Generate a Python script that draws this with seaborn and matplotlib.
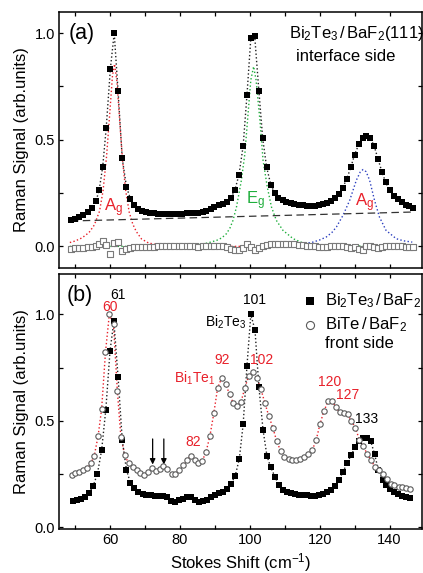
import matplotlib
matplotlib.use("Agg")
import matplotlib.pyplot as plt
import seaborn as sns
from matplotlib.ticker import MultipleLocator

# ---------------- Panel (a): interface side ----------------
a_x = [48.9, 50.1, 51.2, 52.4, 53.6, 54.8, 56.0, 56.9, 57.9, 58.9,
       60.1, 61.2, 62.3, 63.5, 64.7, 65.8, 66.9, 68.1, 69.2, 70.4,
       71.5, 72.7, 73.8, 75.0, 76.1, 77.3, 78.4, 79.6, 80.7, 81.9,
       83.0, 84.2, 85.3, 86.5, 87.6, 88.8, 89.9, 91.1, 92.2, 93.4,
       94.5, 95.7, 96.9, 98.1, 99.2, 100.3, 101.4, 102.6, 103.7, 104.8,
       106.0, 107.1, 108.2, 109.4, 110.5, 111.7, 112.8, 114.0, 115.1, 116.3,
       117.4, 118.6, 119.7, 120.9, 122.0, 123.2, 124.3, 125.5, 126.6, 127.8,
       128.9, 130.0, 131.2, 132.3, 133.4, 134.5, 135.6, 136.7, 137.8, 138.9,
       140.0, 141.2, 142.3, 143.5, 144.6, 145.7, 146.7]
a_y = [0.124, 0.130, 0.138, 0.148, 0.160, 0.180, 0.212, 0.265, 0.372, 0.553,
       0.832, 1.000, 0.728, 0.412, 0.280, 0.224, 0.193, 0.177, 0.168, 0.162,
       0.158, 0.155, 0.153, 0.152, 0.151, 0.151, 0.152, 0.153, 0.154, 0.155,
       0.156, 0.155, 0.157, 0.162, 0.168, 0.175, 0.183, 0.192, 0.200, 0.210,
       0.225, 0.262, 0.335, 0.470, 0.710, 0.976, 0.987, 0.730, 0.506, 0.373,
       0.290, 0.250, 0.228, 0.217, 0.209, 0.202, 0.197, 0.194, 0.192, 0.190,
       0.189, 0.190, 0.193, 0.197, 0.203, 0.212, 0.225, 0.245, 0.275, 0.318,
       0.370, 0.430, 0.478, 0.508, 0.515, 0.508, 0.470, 0.410, 0.350, 0.300,
       0.262, 0.238, 0.220, 0.207, 0.196, 0.187, 0.180]
a_res = [-0.010, -0.009, -0.008, -0.007, -0.005, -0.003, 0.002, 0.012, 0.024, 0.008,
         -0.034, 0.018, 0.020, -0.022, -0.012, -0.006, -0.004, -0.003, -0.002, -0.002,
         -0.001, -0.001, 0.000, 0.000, 0.001, 0.000, 0.000, 0.001, 0.000, 0.000,
         0.000, 0.000, -0.001, 0.000, 0.001, 0.002, 0.003, 0.002, 0.000, -0.004,
         -0.010, -0.016, -0.018, -0.008, 0.010, -0.003, -0.017, -0.006, 0.002, 0.008,
         0.012, 0.012, 0.011, 0.012, 0.012, 0.011, 0.010, 0.008, 0.005, 0.002,
         0.000, 0.000, -0.002, -0.003, -0.002, 0.000, 0.002, 0.003, 0.001, -0.003,
         -0.006, -0.005, -0.010, -0.018, 0.003, 0.000, -0.004, -0.006, -0.004, 0.000,
         0.002, 0.004, 0.003, 0.000, -0.001, -0.002, -0.004]

base_x = [48.8, 146.7]
base_y = [0.119, 0.161]

red_x = [48.5, 50, 52, 54, 55.5, 57, 58, 59, 60, 60.7, 61.3, 62, 62.8, 63.6,
         64.5, 65.5, 66.5, 67.5, 69, 71, 74, 78, 85, 95, 105]
red_y = [0.018, 0.025, 0.040, 0.065, 0.100, 0.165, 0.26, 0.42, 0.64, 0.80, 0.855,
         0.77, 0.58, 0.40, 0.26, 0.16, 0.105, 0.070, 0.035, 0.016, 0.006, 0.0,
         0.0, 0.0, 0.0]
green_x = [48.5, 60, 70, 80, 85.7, 88, 90.5, 92, 93.3, 94.3, 95.2, 96.2, 97.6,
           98.6, 99.5, 100.3, 101.1, 101.8, 102.9, 103.8, 105.0, 106.2, 107.6,
           109.5, 112.4, 115.2, 120, 130, 147]
green_y = [0.0, 0.0, 0.0, 0.002, 0.009, 0.016, 0.028, 0.040, 0.059, 0.085, 0.122,
           0.185, 0.31, 0.435, 0.62, 0.78, 0.843, 0.78, 0.592, 0.404, 0.279, 0.185,
           0.122, 0.075, 0.036, 0.016, 0.006, 0.002, 0.0]
blue_x = [100, 110, 114.3, 118.1, 120, 121.9, 123.5, 124.8, 126.7, 128.6, 130.5,
          131.6, 132.4, 133.3, 134.3, 135.7, 137.1, 139.0, 141.9, 144, 146.5]
blue_y = [0.0, 0.004, 0.009, 0.020, 0.030, 0.044, 0.065, 0.091, 0.146, 0.216, 0.31,
          0.348, 0.36, 0.35, 0.31, 0.216, 0.138, 0.075, 0.036, 0.026, 0.020]

# ---------------- Panel (b): front side ----------------
b_sq_x = [49.3, 50.5, 51.6, 52.8, 54.0, 55.2, 56.4, 57.6, 58.8, 60.0,
          61.1, 62.3, 63.5, 64.7, 65.8, 66.9, 68.1, 69.3, 70.4, 71.6,
          72.8, 73.9, 75.1, 76.2, 77.4, 78.5, 79.7, 80.8, 82.0, 83.1,
          84.3, 85.4, 86.6, 87.7, 88.9, 90.0, 91.2, 92.3, 93.5, 94.6,
          95.8, 97.0, 98.1, 99.2, 100.3, 101.5, 102.6, 103.8, 104.9, 106.0,
          107.2, 108.3, 109.5, 110.6, 111.8, 112.9, 114.1, 115.2, 116.4, 117.5,
          118.7, 119.8, 121.0, 122.1, 123.3, 124.4, 125.6, 126.7, 127.9, 129.0,
          130.2, 131.3, 132.4, 133.5, 134.6, 135.7, 136.8, 138.0, 139.1, 140.2,
          141.4, 142.5, 143.7, 144.8, 146.0]
b_sq_y = [0.123, 0.127, 0.134, 0.143, 0.160, 0.195, 0.252, 0.363, 0.553, 0.828,
          0.968, 0.707, 0.410, 0.270, 0.210, 0.186, 0.167, 0.155, 0.152, 0.151,
          0.148, 0.147, 0.146, 0.140, 0.124, 0.120, 0.126, 0.134, 0.142, 0.140,
          0.126, 0.120, 0.122, 0.130, 0.140, 0.150, 0.160, 0.168, 0.180, 0.205,
          0.240, 0.321, 0.483, 0.759, 1.000, 0.926, 0.661, 0.457, 0.337, 0.281,
          0.238, 0.198, 0.176, 0.168, 0.160, 0.156, 0.154, 0.152, 0.150, 0.147,
          0.145, 0.150, 0.158, 0.167, 0.176, 0.195, 0.223, 0.262, 0.301, 0.340,
          0.375, 0.406, 0.418, 0.421, 0.405, 0.345, 0.270, 0.222, 0.197, 0.180,
          0.165, 0.156, 0.149, 0.143, 0.136]
b_ci_x = [49.0, 50.0, 51.1, 52.3, 53.5, 54.5, 55.5, 56.6, 57.6, 58.7,
          59.8, 61.0, 62.1, 63.1, 64.2, 65.3, 66.5, 67.6, 68.7, 69.8,
          70.9, 72.0, 73.1, 74.2, 75.3, 76.4, 77.6, 78.7, 79.8, 80.9,
          82.0, 83.1, 84.2, 85.3, 86.4, 87.5, 88.6, 89.7, 90.8, 92.0,
          93.1, 94.2, 95.3, 96.4, 97.5, 98.6, 99.7, 100.9, 102.0, 103.2,
          104.3, 105.4, 106.6, 107.7, 108.8, 109.9, 111.1, 112.2, 113.3, 114.5,
          115.6, 116.7, 117.9, 119.0, 120.1, 121.2, 122.4, 123.5, 124.6, 125.7,
          126.9, 128.0, 129.1, 130.2, 131.4, 132.5, 133.6, 134.7, 135.8, 136.9,
          138.1, 139.2, 140.3, 141.4, 142.6, 143.7, 144.8, 146.0]
b_ci_y = [0.246, 0.254, 0.260, 0.268, 0.280, 0.300, 0.337, 0.430, 0.556, 0.822,
          1.000, 0.953, 0.640, 0.426, 0.340, 0.300, 0.283, 0.268, 0.255, 0.245,
          0.258, 0.278, 0.266, 0.272, 0.290, 0.272, 0.252, 0.250, 0.268, 0.292,
          0.315, 0.335, 0.318, 0.300, 0.312, 0.355, 0.430, 0.535, 0.655, 0.703,
          0.672, 0.626, 0.582, 0.570, 0.590, 0.655, 0.712, 0.728, 0.702, 0.648,
          0.585, 0.525, 0.468, 0.405, 0.360, 0.332, 0.320, 0.315, 0.315, 0.322,
          0.330, 0.342, 0.363, 0.410, 0.485, 0.545, 0.592, 0.595, 0.566, 0.540,
          0.535, 0.530, 0.500, 0.468, 0.410, 0.380, 0.345, 0.315, 0.285, 0.268,
          0.250, 0.225, 0.205, 0.197, 0.191, 0.189, 0.186, 0.181]

arrow_x = [72.2, 75.4]

# ---------------- style ----------------
sns.set_theme(style="ticks")
plt.rcParams["font.family"] = ["Liberation Sans", "DejaVu Sans"]
plt.rcParams["mathtext.fontset"] = "custom"
plt.rcParams["mathtext.rm"] = "Liberation Sans"
plt.rcParams["mathtext.it"] = "Liberation Sans:italic"
plt.rcParams["mathtext.bf"] = "Liberation Sans:bold"
plt.rcParams["mathtext.sf"] = "Liberation Sans"
for key in ("text.color", "axes.labelcolor", "xtick.color", "ytick.color",
            "xtick.labelcolor", "ytick.labelcolor", "axes.edgecolor"):
    plt.rcParams[key] = "black"

RED = "#e8202a"
GREEN = "#1fae3c"
BLUE = "#2b3fbf"

fig = plt.figure(figsize=(4.23, 5.73), dpi=100)
ax_a = fig.add_axes([0.1395, 0.5328, 0.8582, 0.4468])
ax_b = fig.add_axes([0.1395, 0.0768, 0.8582, 0.4450])

for ax in (ax_a, ax_b):
    ax.set_xlim(45.4, 149.3)
    ax.xaxis.set_major_locator(MultipleLocator(20))
    ax.xaxis.set_minor_locator(MultipleLocator(10))
    ax.yaxis.set_major_locator(MultipleLocator(0.5))
    ax.yaxis.set_minor_locator(MultipleLocator(0.25))
    ax.tick_params(which="both", direction="in", top=True, right=True,
                   length=3.2, width=0.9, color="black", labelcolor="black",
                   labelsize=10.5, pad=3)
    for s in ax.spines.values():
        s.set_linewidth(1.1)
        s.set_color("black")
    ax.set_ylabel("Raman Signal (arb.units)", fontsize=12, labelpad=4, color="black")

ax_a.set_ylim(-0.1, 1.1)
ax_b.set_ylim(-0.008, 1.19)
ax_a.tick_params(labelbottom=False)
ax_a.set_yticks([0.0, 0.5, 1.0])
ax_b.set_yticks([0.0, 0.5, 1.0])
ax_a.set_yticklabels(["0.0", "0.5", "1.0"])
ax_b.set_yticklabels(["0.0", "0.5", "1.0"])

# ---------------- panel (a) ----------------
kw_line = dict(estimator=None, errorbar=None, sort=False, legend=False)
sns.lineplot(x=red_x, y=red_y, ax=ax_a, color=RED, linestyle=":", linewidth=1.0, **kw_line)
sns.lineplot(x=green_x, y=green_y, ax=ax_a, color=GREEN, linestyle=":", linewidth=1.0, **kw_line)
sns.lineplot(x=blue_x, y=blue_y, ax=ax_a, color=BLUE, linestyle=":", linewidth=1.0, **kw_line)
sns.lineplot(x=base_x, y=base_y, ax=ax_a, color="#333333", linestyle=(0, (6, 3.5)), linewidth=0.9, **kw_line)
sns.lineplot(x=a_x, y=a_y, ax=ax_a, color="#222222", linestyle=":", linewidth=1.0, **kw_line)
sns.scatterplot(x=a_x, y=a_y, ax=ax_a, marker="s", s=14, color="black",
                edgecolor="black", linewidth=0, zorder=4, legend=False)
sns.scatterplot(x=a_x, y=a_res, ax=ax_a, marker="s", s=14, color="white",
                edgecolor="#7a7a7a", linewidth=0.8, zorder=4, legend=False)

ax_a.text(48.05, 1.0, "(a)", fontsize=15.5, ha="left", va="center")
ax_a.text(111.1, 1.0, r"$\mathregular{Bi_2Te_3\,/\,BaF_2(111)}$", fontsize=12,
          ha="left", va="center")
ax_a.text(113.3, 0.889, "interface side", fontsize=12, ha="left", va="center")
ax_a.text(61.1, 0.166, r"A$_\mathregular{g}$", color=RED, fontsize=12, ha="center", va="baseline")
ax_a.text(101.5, 0.197, r"E$_\mathregular{g}$", color=GREEN, fontsize=12, ha="center", va="baseline")
ax_a.text(132.8, 0.188, r"A$_\mathregular{g}$", color=RED, fontsize=12, ha="center", va="baseline")

# ---------------- panel (b) ----------------
sns.lineplot(x=b_ci_x, y=b_ci_y, ax=ax_b, color=RED, linestyle=":", linewidth=1.0, **kw_line)
sns.lineplot(x=b_sq_x, y=b_sq_y, ax=ax_b, color="#222222", linestyle=":", linewidth=1.0, **kw_line)
sns.scatterplot(x=b_sq_x, y=b_sq_y, ax=ax_b, marker="s", s=14, color="black",
                edgecolor="black", linewidth=0, zorder=4,
                label=r"$\mathregular{Bi_2Te_3\,/\,BaF_2}$")
sns.scatterplot(x=b_ci_x, y=b_ci_y, ax=ax_b, marker="o", s=15, color="white",
                edgecolor="#5a5a5a", linewidth=0.8, zorder=5,
                label=r"$\mathregular{BiTe\,/\,BaF_2}$")

handles, labels = ax_b.get_legend_handles_labels()
leg = ax_b.legend(handles, labels, loc="upper left", bbox_to_anchor=(114.9, 1.11),
                  bbox_transform=ax_b.transData, frameon=False, fontsize=12,
                  handlelength=1.0, handletextpad=0.4, borderpad=0, borderaxespad=0,
                  labelspacing=0.35, markerscale=1.5)
for t in leg.get_texts():
    t.set_color("black")
ax_b.text(121.6, 0.865, "front side", fontsize=12, ha="left", va="center")

ax_b.text(47.6, 1.09, "(b)", fontsize=15.5, ha="left", va="center")
ax_b.text(62.3, 1.09, "61", fontsize=10, ha="center", va="center")
ax_b.text(60.0, 1.035, "60", fontsize=10, color=RED, ha="center", va="center")
ax_b.text(101.4, 1.07, "101", fontsize=10, ha="center", va="center")
ax_b.text(99.0, 0.965, r"$\mathregular{Bi_2Te_3}$", fontsize=10, ha="right", va="center")
ax_b.text(92.2, 0.785, "92", fontsize=10, color=RED, ha="center", va="center")
ax_b.text(103.3, 0.785, "102", fontsize=10, color=RED, ha="center", va="center")
ax_b.text(84.2, 0.70, r"$\mathregular{Bi_1Te_1}$", fontsize=10, color=RED, ha="center", va="center")
ax_b.text(83.7, 0.40, "82", fontsize=10, color=RED, ha="center", va="center")
ax_b.text(122.9, 0.684, "120", fontsize=10, color=RED, ha="center", va="center")
ax_b.text(128.0, 0.62, "127", fontsize=10, color=RED, ha="center", va="center")
ax_b.text(133.3, 0.507, "133", fontsize=10, ha="center", va="center")

for xa in arrow_x:
    ax_b.annotate("", xy=(xa, 0.295), xytext=(xa, 0.415),
                  arrowprops=dict(arrowstyle="-|>", color="black", lw=0.9,
                                  mutation_scale=8, shrinkA=0, shrinkB=0))

ax_b.set_xlabel(r"Stokes Shift (cm$^{\mathregular{-1}}$)", fontsize=12, labelpad=3,
                color="black")

fig.savefig("out.png", dpi=100)
